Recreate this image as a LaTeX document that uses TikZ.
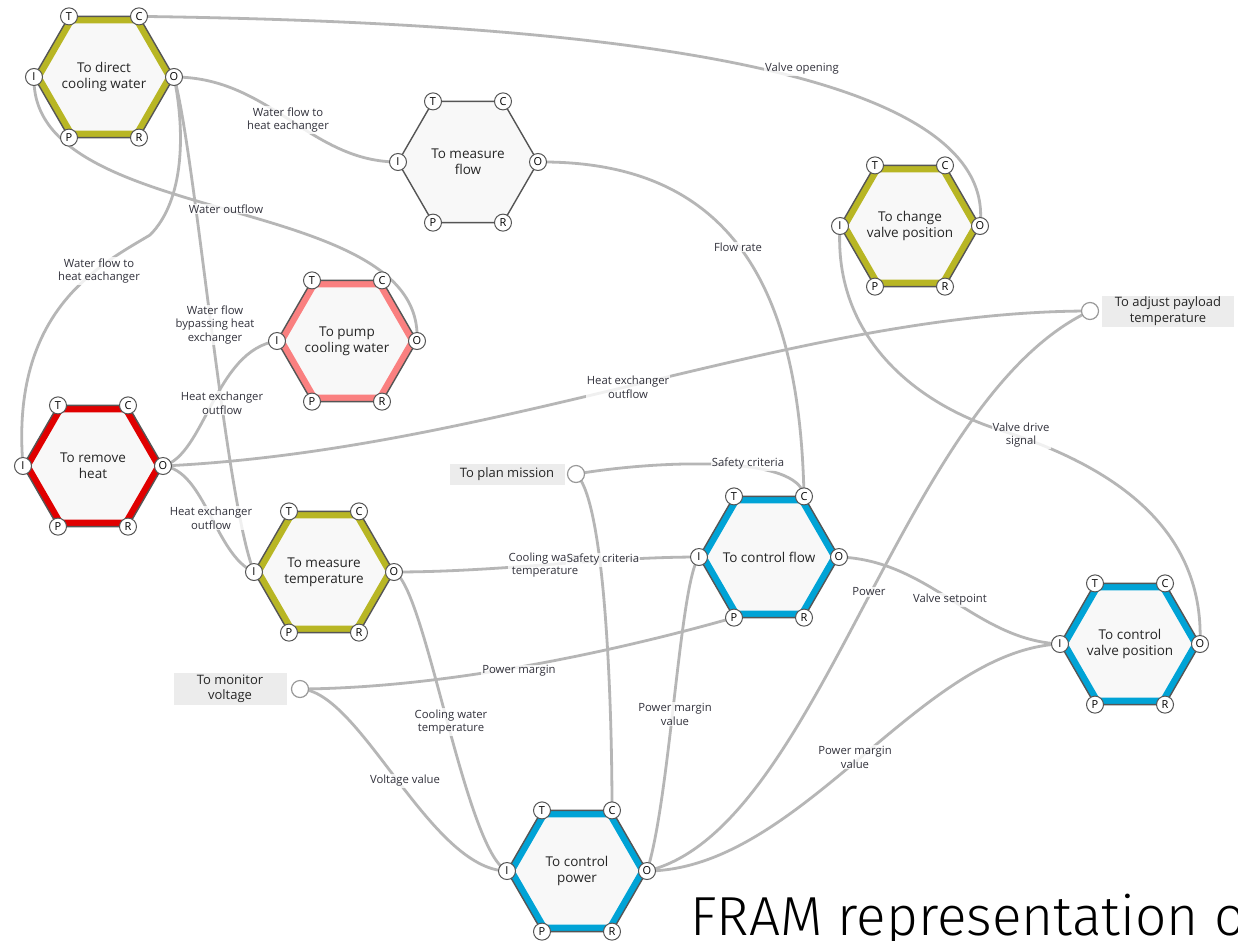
\documentclass[tikz,border=0pt]{standalone}
\usepackage{fontspec}
\setmainfont{Open Sans}
\newfontfamily\handfont{Fira Sans Light}
\definecolor{framolive}{RGB}{184,182,36}
\definecolor{framred}{RGB}{224,0,0}
\definecolor{frampink}{RGB}{250,128,128}
\definecolor{frambl}{RGB}{0,163,214}
\definecolor{connc}{RGB}{182,182,182}
\definecolor{hexl}{RGB}{85,85,85}
\definecolor{hexf}{RGB}{248,248,248}
\definecolor{stubf}{RGB}{236,236,236}
\definecolor{lblc}{RGB}{50,50,60}
\pgfdeclarelayer{bglayer}
\pgfdeclarelayer{connlayer}
\pgfsetlayers{bglayer,connlayer,main}
\tikzset{
  hexfill/.style={fill=hexf},
  hexline/.style={draw=hexl, line width=1.4pt, line join=miter},
  port/.style={circle, draw=hexl, fill=white, line width=1pt, minimum size=17pt, inner sep=0pt, font=\fontsize{11}{11}\selectfont, text=black},
  fntext/.style={align=center, font=\fontsize{13.5}{16}\selectfont, text=black!85},
  conn/.style={draw=connc, line width=2.8pt},
  lbl/.style={align=center, font=\fontsize{11.3}{13.8}\selectfont, text=lblc, fill=white, fill opacity=0.8, text opacity=1, inner sep=1pt},
  stub/.style={fill=stubf, align=center, font=\fontsize{13}{15.5}\selectfont, text=black!85, inner sep=0pt},
  stubc/.style={circle, draw=black!40, fill=white, line width=1.2pt, minimum size=17pt, inner sep=0pt},
}
\newcommand\framfn[5]{%
\begin{scope}[shift={(#2,#3)}]
\fill[hexfill] (-70,0)--(-35,-60.62)--(35,-60.62)--(70,0)--(35,60.62)--(-35,60.62)--cycle;
\draw[draw=#4, line width=7pt, line join=miter] (-66,0)--(-33,-57.16)--(33,-57.16)--(66,0)--(33,57.16)--(-33,57.16)--cycle;
\draw[hexline] (-70,0)--(-35,-60.62)--(35,-60.62)--(70,0)--(35,60.62)--(-35,60.62)--cycle;
\node[fntext] (#1) at (0,0) {#5};
\node[port] (#1-T) at (-35,-60.62) {T};
\node[port] (#1-C) at (35,-60.62) {C};
\node[port] (#1-I) at (-70,0) {I};
\node[port] (#1-O) at (70,0) {O};
\node[port] (#1-P) at (-35,60.62) {P};
\node[port] (#1-R) at (35,60.62) {R};
\end{scope}}
\begin{document}
\begin{tikzpicture}[x=1pt,y=-1pt]
\useasboundingbox (0,0) rectangle (1238,940);
\begin{pgfonlayer}{bglayer}
\fill[white] (0,0) rectangle (1238,940);
\end{pgfonlayer}
\clip (0,0) rectangle (1238,940);

\framfn{h1}{104}{77}{framolive}{To direct\\cooling water}
\framfn{h2}{468}{162}{none}{To measure\\flow}
\framfn{h3}{910}{226}{framolive}{To change\\valve position}
\framfn{h4}{347}{341}{frampink}{To pump\\cooling water}
\framfn{h5}{93}{466}{framred}{To remove\\heat}
\framfn{h6}{324}{572}{framolive}{To measure\\temperature}
\framfn{h7}{769}{557}{frambl}{To control flow}
\framfn{h8}{1130}{644}{frambl}{To control\\valve position}
\framfn{h9}{577}{871}{frambl}{To control\\power}

\node[stub, minimum width=132pt, minimum height=31pt] (pay) at (1168,311) {To adjust payload\\temperature};
\node[stubc] (payc) at (1090,311) {};
\node[stub, minimum width=115pt, minimum height=21pt] (plan) at (507,474) {To plan mission};
\node[stubc] (planc) at (576,474) {};
\node[stub, minimum width=113pt, minimum height=32pt] (mon) at (230,689) {To monitor\\voltage};
\node[stubc] (monc) at (300,689) {};

\begin{pgfonlayer}{connlayer}
\draw[conn] (h1-C.center) .. controls (560,22) and (1000,60) .. (h3-O.center);
\draw[conn] (h1-O.center) .. controls (270,77) and (310,162) .. (h2-I.center);
\draw[conn] (h1-I.center) .. controls (30,230) and (425,190) .. (h4-O.center);
\draw[conn] (h1-O.center) .. controls (185,130) and (185,200) .. (150,235) .. controls (100,265) and (10,310) .. (h5-I.center);
\draw[conn] (h1-O.center) .. controls (195,150) and (225,500) .. (h6-I.center);
\draw[conn] (h2-O.center) .. controls (740,160) and (800,300) .. (h7-C.center);
\draw[conn] (h3-I.center) .. controls (833,340) and (920,405) .. (1000,430) .. controls (1100,462) and (1205,520) .. (h8-O.center);
\draw[conn] (h5-O.center) .. controls (205,455) and (215,350) .. (h4-I.center);
\draw[conn] (h5-O.center) .. controls (500,450) and (800,311) .. (payc.center);
\draw[conn] (h5-O.center) .. controls (205,470) and (215,555) .. (h6-I.center);
\draw[conn] (h6-O.center) .. controls (500,572) and (600,557) .. (h7-I.center);
\draw[conn] (planc.center) .. controls (660,460) and (800,455) .. (h7-C.center);
\draw[conn] (planc.center) .. controls (605,500) and (612,700) .. (h9-C.center);
\draw[conn] (h6-O.center) .. controls (425,585) and (465,850) .. (h9-I.center);
\draw[conn] (monc.center) .. controls (450,688) and (620,650) .. (h7-P.center);
\draw[conn] (monc.center) .. controls (360,690) and (430,870) .. (h9-I.center);
\draw[conn] (h9-O.center) .. controls (670,800) and (680,580) .. (h7-I.center);
\draw[conn] (h9-O.center) .. controls (820,830) and (900,400) .. (payc.center);
\draw[conn] (h9-O.center) .. controls (800,870) and (920,650) .. (h8-I.center);
\draw[conn] (h7-O.center) .. controls (930,560) and (975,640) .. (h8-I.center);
\end{pgfonlayer}

\node[lbl] (l1) at (802,69) {Valve opening};
\node[lbl] (l2) at (288,120) {Water flow to\\heat eachanger};
\node[lbl] (l3) at (226,209) {Water outflow};
\node[lbl] (l4) at (99,271) {Water flow to\\heat eachanger};
\node[lbl] (l5) at (215,325) {Water flow\\bypassing heat\\exchanger};
\node[lbl] (l6) at (738,247) {Flow rate};
\node[lbl] (l7) at (222,403) {Heat exchanger\\outflow};
\node[lbl] (l8) at (628,387) {Heat exchanger\\outflow};
\node[lbl] (l9) at (1021,435) {Valve drive\\signal};
\node[lbl] (l10) at (748,464) {Safety criteria};
\node[lbl] (l11) at (211,518) {Heat exchanger\\outflow};
\node[lbl] (l12) at (545,565) {Cooling water\\temperature};
\node[lbl] (l13) at (603,560) {Safety criteria};
\node[lbl] (l14) at (519,671) {Power margin};
\node[lbl] (l15) at (451,722) {Cooling water\\temperature};
\node[lbl] (l16) at (405,781) {Voltage value};
\node[lbl] (l17) at (675,714) {Power margin\\value};
\node[lbl] (l18) at (869,592) {Power};
\node[lbl] (l19) at (950,600) {Valve setpoint};
\node[lbl] (l20) at (855,757) {Power margin\\value};

\node[anchor=base west, inner sep=0pt, font=\handfont\fontsize{55}{55}\selectfont] (title) at (690,935) {FRAM representation o};
\end{tikzpicture}
\end{document}
